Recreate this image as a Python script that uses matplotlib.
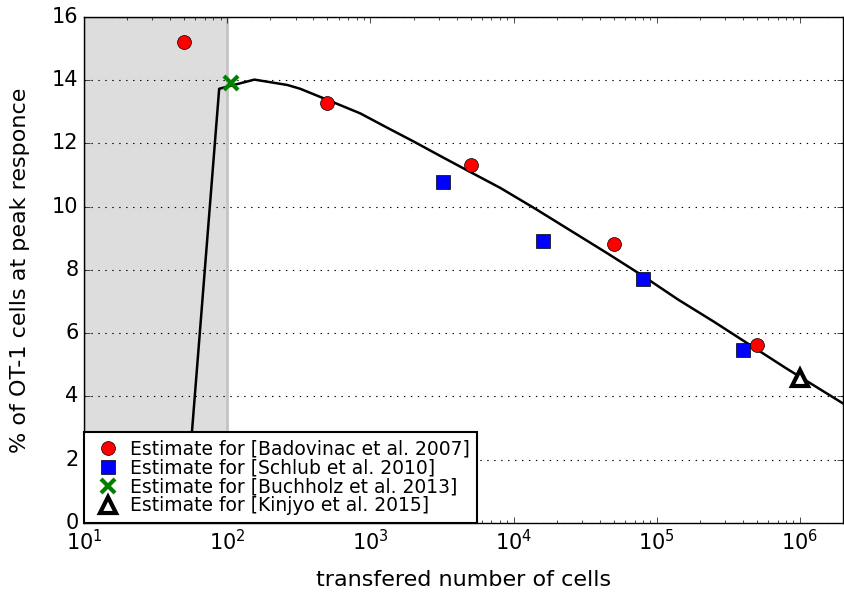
import matplotlib
matplotlib.use("Agg")
import matplotlib.pyplot as plt
import numpy as np

# model curve (log10 of transferred cells, % at peak)
model_logx = [1.70, 1.944, 2.19, 2.42, 2.51, 2.743, 2.93, 3.117, 3.303, 3.49, 3.676,
              3.909, 4.15, 4.40, 4.65, 4.90, 5.15, 5.40, 5.65, 5.90, 6.15, 6.40]
model_y = [-0.2, 13.73, 14.02, 13.85, 13.73, 13.3, 12.95, 12.5, 12.06, 11.6, 11.15,
           10.59, 9.94, 9.24, 8.54, 7.82, 7.06, 6.36, 5.63, 4.9, 4.2, 3.5]

badovinac_x = [50, 500, 5000, 50000, 500000]
badovinac_y = [15.2, 13.28, 11.32, 8.82, 5.62]

schlub_x = [3200, 16000, 80000, 400000]
schlub_y = [10.77, 8.92, 7.72, 5.46]

buchholz_x = [107]
buchholz_y = [13.92]

kinjyo_x = [1e6]
kinjyo_y = [4.58]

plt.style.use("classic")
plt.rcParams["figure.facecolor"] = "white"
plt.rcParams["savefig.facecolor"] = "white"

fig = plt.figure(figsize=(8.44, 5.92), dpi=100)
ax = fig.add_axes([0.0995, 0.1166, 0.8995, 0.8547])

ax.axvspan(10, 100, facecolor="#dddddd", edgecolor="#c4c4c4", linewidth=2, zorder=0)
ax.plot(10 ** np.array(model_logx), model_y, "k-", linewidth=1.8, zorder=2)

ax.plot(badovinac_x, badovinac_y, "o", color="red", markeredgecolor="k", markersize=10,
        label="Estimate for [Badovinac et al. 2007]", zorder=3)
ax.plot(schlub_x, schlub_y, "s", color="blue", markeredgecolor="k", markersize=10,
        label="Estimate for [Schlub et al. 2010]", zorder=3)
ax.plot(buchholz_x, buchholz_y, "x", color="green", markeredgecolor="green", markersize=10,
        markeredgewidth=3, label="Estimate for [Buchholz et al. 2013]", zorder=3)
ax.plot(kinjyo_x, kinjyo_y, "^", color="white", markeredgecolor="k", markersize=11,
        markeredgewidth=3, label="Estimate for [Kinjyo et al. 2015]", zorder=3)

ax.set_xscale("log")
ax.set_xlim(10, 2e6)
ax.set_ylim(0, 16)
ax.yaxis.grid(True, linestyle=(0, (1, 4)), color="k", linewidth=0.8)
ax.xaxis.grid(False)

ax.tick_params(labelsize=15)
ax.set_xlabel("transfered number of cells", fontsize=16, labelpad=12)
ax.set_ylabel("% of OT-1 cells at peak responce", fontsize=16, labelpad=16)

leg = ax.legend(loc="lower left", numpoints=1, fontsize=13.5, borderaxespad=0,
                handlelength=1.8, handletextpad=0.25, labelspacing=0, borderpad=0.4)
leg.get_frame().set_linewidth(1.5)

fig.savefig("out.png", dpi=100)
